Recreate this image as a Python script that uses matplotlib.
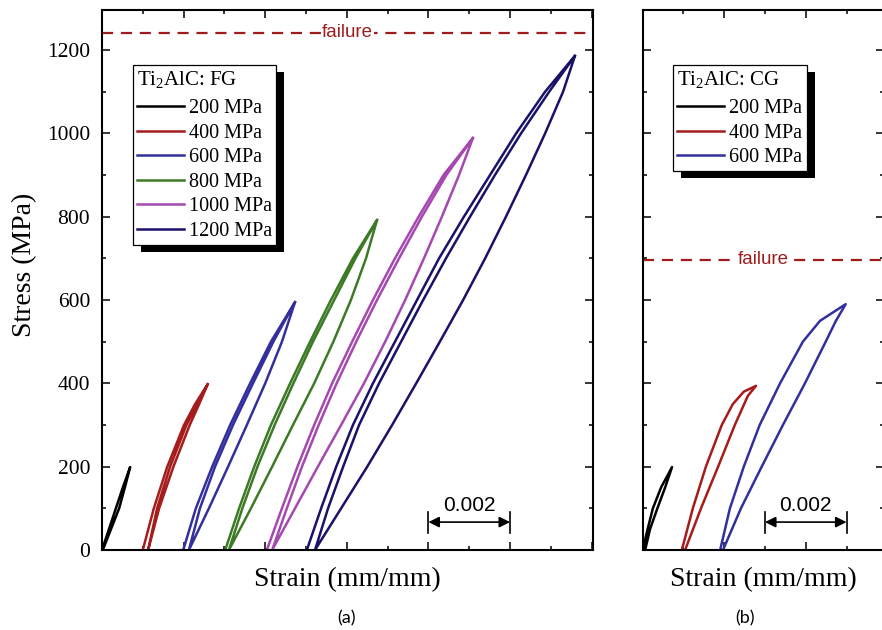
import matplotlib
matplotlib.use('Agg')
import matplotlib.pyplot as plt
from matplotlib.patches import Rectangle
from matplotlib.transforms import IdentityTransform
from matplotlib.ticker import MultipleLocator

plt.rcParams['font.family'] = ['Liberation Serif', 'DejaVu Serif']
plt.rcParams['mathtext.fontset'] = 'custom'
plt.rcParams['mathtext.rm'] = 'Liberation Serif'
plt.rcParams['mathtext.it'] = 'Liberation Serif:italic'

# --- Data: strain in 1e-3 mm/mm, stress in MPa ---
# each path = loading, unloading, second loading
fg_labels = ['200 MPa', '400 MPa', '600 MPa', '800 MPa', '1000 MPa', '1200 MPa']
fg_colors = ['#000000', '#a51c1c', '#33309e', '#3d7a26', '#a548b0', '#1a1268']

fg_200_strain = [0.0, 0.17, 0.34, 0.51, 0.69, 0.56, 0.42, 0.22, 0.02]
fg_200_stress = [0, 50, 100, 150, 199, 150, 100, 50, 0]

fg_400_strain = [1.00, 1.27, 1.60, 2.01, 2.28, 2.59, 2.38, 2.15, 1.75, 1.40, 1.13,
                 1.35, 1.67, 2.07, 2.33, 2.59]
fg_400_stress = [0, 100, 200, 300, 350, 398, 350, 300, 200, 100, 0,
                 100, 200, 300, 350, 398]

fg_600_strain = [1.99, 2.30, 2.70, 3.14, 3.63, 4.14, 4.73, 4.41, 4.00, 3.55, 3.09, 2.62, 2.13,
                 2.40, 2.77, 3.21, 3.70, 4.20, 4.73]
fg_600_stress = [0, 100, 200, 300, 400, 500, 595, 500, 400, 300, 200, 100, 0,
                 100, 200, 300, 400, 500, 595]

fg_800_strain = [3.02, 3.36, 3.73, 4.14, 4.61, 5.10, 5.61, 6.15, 6.74,
                 6.47, 6.10, 5.67, 5.20, 4.68, 4.17, 3.65, 3.11,
                 3.44, 3.81, 4.23, 4.69, 5.17, 5.69, 6.21, 6.74]
fg_800_stress = [0, 100, 200, 300, 400, 500, 600, 700, 792,
                 700, 600, 500, 400, 300, 200, 100, 0,
                 100, 200, 300, 400, 500, 600, 700, 792]

fg_1000_strain = [4.04, 4.41, 4.79, 5.20, 5.64, 6.13, 6.64, 7.18, 7.76, 8.37, 9.09,
                  8.75, 8.33, 7.89, 7.43, 6.94, 6.42, 5.86, 5.29, 4.73, 4.17,
                  4.53, 4.90, 5.31, 5.75, 6.23, 6.74, 7.28, 7.84, 8.44, 9.09]
fg_1000_stress = [0, 100, 200, 300, 400, 500, 600, 700, 800, 900, 989,
                  900, 800, 700, 600, 500, 400, 300, 200, 100, 0,
                  100, 200, 300, 400, 500, 600, 700, 800, 900, 989]

fg_1200_strain = [5.02, 5.37, 5.74, 6.15, 6.64, 7.18, 7.72, 8.26, 8.87, 9.51, 10.15, 10.86, 11.59,
                  11.30, 10.86, 10.39, 9.90, 9.39, 8.85, 8.28, 7.70, 7.11, 6.50, 5.86, 5.22,
                  5.54, 5.91, 6.30, 6.79, 7.33, 7.87, 8.43, 9.02, 9.63, 10.27, 10.96, 11.59]
fg_1200_stress = [0, 100, 200, 300, 400, 500, 600, 700, 800, 900, 1000, 1100, 1186,
                  1100, 1000, 900, 800, 700, 600, 500, 400, 300, 200, 100, 0,
                  100, 200, 300, 400, 500, 600, 700, 800, 900, 1000, 1100, 1186]

cg_labels = ['200 MPa', '400 MPa', '600 MPa']
cg_colors = ['#000000', '#a51c1c', '#33309e']

cg_200_strain = [0.0, 0.12, 0.25, 0.45, 0.72, 0.55, 0.36, 0.18, 0.06]
cg_200_stress = [0, 50, 100, 150, 199, 150, 100, 50, 0]

cg_400_strain = [0.96, 1.23, 1.55, 1.94, 2.21, 2.48, 2.78, 2.58, 2.26, 1.85, 1.43, 1.04]
cg_400_stress = [0, 100, 200, 300, 350, 380, 394, 370, 300, 200, 100, 0]

cg_600_strain = [1.90, 2.14, 2.48, 2.87, 3.37, 3.93, 4.35, 4.98, 4.74, 4.49, 3.98, 3.44, 2.92, 2.41, 1.97]
cg_600_stress = [0, 100, 200, 300, 400, 500, 550, 590, 550, 500, 400, 300, 200, 100, 0]

fg_failure = 1241
cg_failure = 696

FAIL_COLOR = '#a01c1c'


def style_axes(ax, xmax):
    ax.set_xlim(0, xmax)
    ax.set_ylim(0, 1296)
    ax.xaxis.set_major_locator(MultipleLocator(2))
    ax.xaxis.set_minor_locator(MultipleLocator(1))
    ax.yaxis.set_major_locator(MultipleLocator(200))
    ax.yaxis.set_minor_locator(MultipleLocator(100))
    ax.tick_params(which='both', direction='in', top=True, right=True,
                   labelbottom=False, width=1.1)
    ax.tick_params(which='major', length=5.5, labelsize=15.5, pad=8.5)
    ax.tick_params(which='minor', length=3.2)
    for s in ax.spines.values():
        s.set_linewidth(1.5)
    ax.set_xlabel('Strain (mm/mm)', fontsize=20, labelpad=12)


def failure_line(ax, y, xtext):
    ax.axhline(y, color=FAIL_COLOR, lw=1.6, ls=(0, (5, 3.5)), zorder=1)
    ax.text(xtext, y, 'failure', color=FAIL_COLOR, fontsize=13.5,
            family='Liberation Sans', ha='center', va='center', zorder=2,
            bbox=dict(facecolor='white', edgecolor='none', pad=0.5))


def scale_bar(ax, x0, x1):
    y = 67
    ax.annotate('', xy=(x1, y), xytext=(x0, y),
                arrowprops=dict(arrowstyle='<|-|>', color='black', lw=1.2,
                                mutation_scale=16, shrinkA=0, shrinkB=0))
    for x in (x0, x1):
        ax.plot([x, x], [41, 92], color='black', lw=1.2)
    ax.text((x0 + x1) / 2, 83, '0.002', family='Liberation Sans', fontsize=15,
            ha='center', va='bottom')


def legend_with_shadow(fig, ax, title, anchor):
    leg = ax.legend(loc='upper left', bbox_to_anchor=anchor, borderaxespad=0,
                    title=title, title_fontsize=15, fontsize=14.5,
                    alignment='left', handlelength=2.35, handletextpad=0.25,
                    labelspacing=0.27, borderpad=0.2, fancybox=False,
                    framealpha=1, edgecolor='black')
    leg.get_frame().set_linewidth(0.9)
    # a bit more room between the title and the first entry
    leg._legend_box.sep = 6.5
    fig.canvas.draw()
    bb = leg.get_window_extent()
    shadow = Rectangle((bb.x0 + 8, bb.y0 - 7), bb.width, bb.height,
                       transform=IdentityTransform(), facecolor='black',
                       edgecolor='none', zorder=4.9, clip_on=False)
    ax.add_artist(shadow)
    return leg


fig = plt.figure(figsize=(8.82, 6.3), dpi=100)
ax_a = fig.add_axes([102 / 882, 80 / 630, 491.3 / 882, 540 / 630])
ax_b = fig.add_axes([642.7 / 882, 80 / 630, 241.3 / 882, 540 / 630])

fg_strains = [fg_200_strain, fg_400_strain, fg_600_strain, fg_800_strain, fg_1000_strain, fg_1200_strain]
fg_stresses = [fg_200_stress, fg_400_stress, fg_600_stress, fg_800_stress, fg_1000_stress, fg_1200_stress]
for x, y, c, lab in zip(fg_strains, fg_stresses, fg_colors, fg_labels):
    ax_a.plot(x, y, color=c, lw=1.8, label=lab, solid_joinstyle='round')

cg_strains = [cg_200_strain, cg_400_strain, cg_600_strain]
cg_stresses = [cg_200_stress, cg_400_stress, cg_600_stress]
for x, y, c, lab in zip(cg_strains, cg_stresses, cg_colors, cg_labels):
    ax_b.plot(x, y, color=c, lw=1.8, label=lab, solid_joinstyle='round')

style_axes(ax_a, 12.04)
style_axes(ax_b, 5.92)
ax_b.tick_params(labelleft=False)
ax_a.set_ylabel('Stress (MPa)', fontsize=20)
ax_a.yaxis.set_label_coords(-0.133, 0.528)

failure_line(ax_a, fg_failure, 6.02)
failure_line(ax_b, cg_failure, 2.95)

scale_bar(ax_a, 8.0, 10.0)
scale_bar(ax_b, 3.0, 5.0)

legend_with_shadow(fig, ax_a, 'Ti$_2$AlC: FG', (0.063, 0.898))
legend_with_shadow(fig, ax_b, 'Ti$_2$AlC: CG', (0.126, 0.898))

fig.text(347 / 882, 1 - 618 / 630, '(a)', family='Lato', fontsize=13, ha='center', va='center')
fig.text(745 / 882, 1 - 618 / 630, '(b)', family='Lato', fontsize=13, ha='center', va='center')

fig.savefig('out.png', dpi=100)
